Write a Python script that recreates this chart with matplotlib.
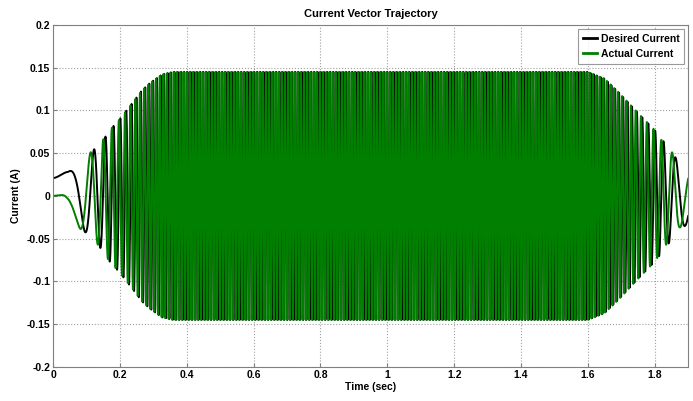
import numpy as np
import matplotlib
matplotlib.use("Agg")
from matplotlib import pyplot as plt

freq_t = [0, 0.045, 0.071, 0.111, 0.133, 0.15, 0.17, 0.21, 0.25, 0.3, 0.36, 0.4,
          1.58, 1.62, 1.68, 1.73, 1.77, 1.81, 1.83, 1.847, 1.869, 1.9]
freq_hz = [0.5, 4.7, 9.4, 19, 27, 33, 42, 56, 72, 88, 100, 105.36,
           105.36, 100, 88, 72, 56, 42, 33, 27, 19, 12]
phase_start = -0.74

# envelope of desired current (A)
amp_des_t = [0, 0.045, 0.098, 0.124, 0.142, 0.158, 0.17, 0.2, 0.24, 0.265, 0.29, 0.326, 0.36,
             1.6, 1.65, 1.69, 1.75, 1.8, 1.83, 1.862, 1.887, 1.9]
amp_des = [0.028, 0.028, 0.043, 0.055, 0.061, 0.07, 0.077, 0.09, 0.11, 0.123, 0.132, 0.142, 0.145,
           0.145, 0.137, 0.122, 0.097, 0.077, 0.062, 0.045, 0.036, 0.033]

# envelope of actual current (A) and its phase lead (rad)
amp_act_t = [0, 0.02, 0.05, 0.078, 0.1125, 0.134, 0.15, 0.17, 0.2, 0.24, 0.265, 0.29, 0.326, 0.36,
             1.6, 1.65, 1.69, 1.75, 1.8, 1.838, 1.855, 1.875, 1.9]
amp_act = [0.0, 0.004, 0.025, 0.037, 0.051, 0.057, 0.066, 0.077, 0.09, 0.11, 0.123, 0.132, 0.142, 0.145,
           0.145, 0.137, 0.122, 0.097, 0.077, 0.055, 0.05, 0.037, 0.033]
lead_t = [0, 0.04, 0.08, 0.11, 1.9]
lead_rad = [2.1, 1.8, 1.3, 1.38, 1.45]

y_ticks = [-0.2, -0.15, -0.1, -0.05, 0, 0.05, 0.1, 0.15, 0.2]
y_labels = ['-0.2', '-0.15', '-0.1', '-0.05', '0', '0.05', '0.1', '0.15', '0.2']
x_ticks = [0, 0.2, 0.4, 0.6, 0.8, 1, 1.2, 1.4, 1.6, 1.8]
x_labels = ['0', '0.2', '0.4', '0.6', '0.8', '1', '1.2', '1.4', '1.6', '1.8']

t = np.linspace(0, 1.9, 40000)
f = np.interp(t, freq_t, freq_hz)
cycles = np.concatenate([[0], np.cumsum((f[1:] + f[:-1]) / 2 * np.diff(t))])
phase = phase_start + 2 * np.pi * cycles
desired = np.interp(t, amp_des_t, amp_des) * np.cos(phase)
actual = np.interp(t, amp_act_t, amp_act) * np.cos(phase + np.interp(t, lead_t, lead_rad))

plt.rcParams['font.family'] = ['Liberation Sans', 'DejaVu Sans']
plt.rcParams['font.weight'] = 'bold'

fig = plt.figure(figsize=(6.93, 4.01), dpi=100)
ax = fig.add_axes([0.0765, 0.085, 0.9165, 0.853])

ax.plot(t, desired, color='black', linewidth=1.4, label='Desired Current')
ax.plot(t, actual, color='#007f00', linewidth=1.4, label='Actual Current')

ax.set_xlim(0, 1.9)
ax.set_ylim(-0.2, 0.2)
ax.set_xticks(x_ticks)
ax.set_xticklabels(x_labels)
ax.set_yticks(y_ticks)
ax.set_yticklabels(y_labels)
ax.tick_params(direction='in', length=3, labelsize=7.5, color='#808080', pad=2)
for s in ax.spines.values():
    s.set_color('#808080')
ax.grid(True, linestyle=':', color='#a0a0a0', linewidth=0.8)

ax.set_title("Current Vector Trajectory", fontsize=8, fontweight='bold', pad=6)
ax.set_xlabel("Time (sec)", fontsize=7.5, fontweight='bold', labelpad=2)
ax.set_ylabel("Current (A)", fontsize=7.5, fontweight='bold', labelpad=4)

leg = ax.legend(loc='upper right', fontsize=7.5, frameon=True, fancybox=False,
                handlelength=1.4, handletextpad=0.3, borderpad=0.45, labelspacing=0.5,
                borderaxespad=0.4)
leg.get_frame().set_edgecolor('#808080')
leg.get_frame().set_linewidth(0.8)
for line in leg.get_lines():
    line.set_linewidth(2)

fig.savefig('out.png', dpi=100)
